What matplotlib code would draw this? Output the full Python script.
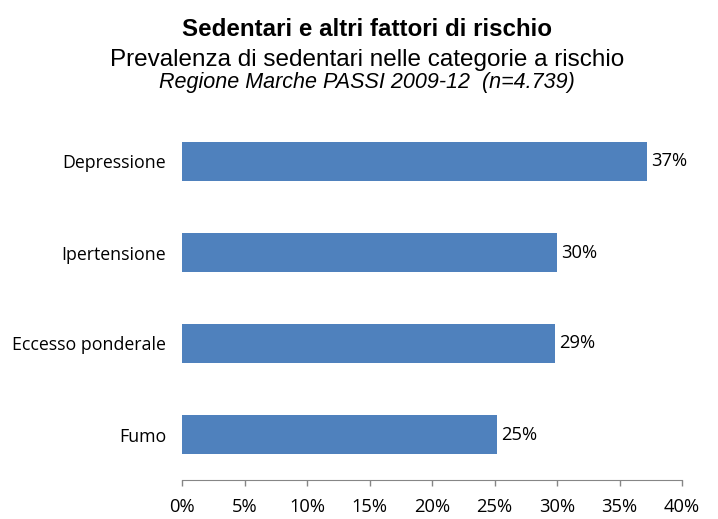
import matplotlib
matplotlib.use("Agg")
import matplotlib.pyplot as plt
from matplotlib.ticker import FuncFormatter

categories = ["Depressione", "Ipertensione", "Eccesso ponderale", "Fumo"]
values = [37.2, 30.0, 29.8, 25.2]
labels = ["37%", "30%", "29%", "25%"]
xticks = [0, 5, 10, 15, 20, 25, 30, 35, 40]

FONT = "Open Sans"
fig = plt.figure(figsize=(7.18, 5.19), dpi=100)
ax = fig.add_axes([182/718, 39/519, 500/718, 364/519])

ypos = list(range(len(categories)))[::-1]
bars = ax.barh(ypos, values, height=0.42, color="#4F81BD")
for b, lab in zip(bars, labels):
    ax.text(b.get_width() + 0.35, b.get_y() + b.get_height()/2, lab,
            va="center", ha="left", fontsize=13.2, family=FONT, color="#000000")

ax.set_xlim(0, 40)
ax.set_ylim(-0.5, 3.5)
ax.set_yticks(ypos)
ax.set_yticklabels(categories, family=FONT, fontsize=12.8)
ax.set_xticks(xticks)
ax.xaxis.set_major_formatter(FuncFormatter(lambda v, p: f"{int(v)}%"))
for t in ax.get_xticklabels():
    t.set_family(FONT); t.set_fontsize(13.2)
ax.tick_params(axis="y", length=0, pad=11.5)
ax.tick_params(axis="x", direction="out", length=4, width=1, color="#868686", pad=9)
for s in ["top", "right", "left"]:
    ax.spines[s].set_visible(False)
ax.spines["bottom"].set_color("#868686")

cx = 367/718
fig.text(cx, 1 - 36/519, "Sedentari e altri fattori di rischio", ha="center", va="baseline",
         family="Liberation Sans", fontweight="bold", fontsize=17.4)
fig.text(cx, 1 - 66/519, "Prevalenza di sedentari nelle categorie a rischio", ha="center", va="baseline",
         family="Liberation Sans", fontsize=17.5)
fig.text(cx, 1 - 88/519, "Regione Marche PASSI 2009-12  (n=4.739)", ha="center", va="baseline",
         family="Liberation Sans", style="italic", fontsize=15.5)

fig.savefig("out.png", dpi=100)
